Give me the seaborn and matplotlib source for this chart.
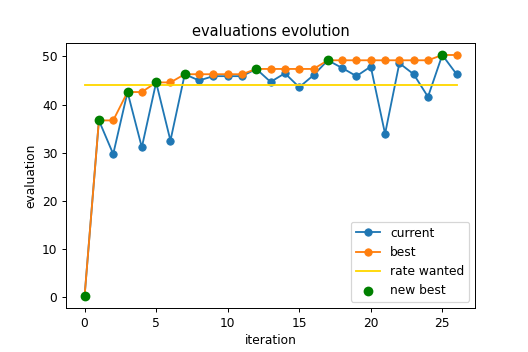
import matplotlib
matplotlib.use("Agg")
import matplotlib.pyplot as plt
import seaborn as sns
import pandas as pd

# valeurs
iterations = list(range(27))
current = [0.2, 36.7, 29.7, 42.6, 31.1, 44.6, 32.5, 46.3, 45.0, 45.9, 45.9, 45.9,
           47.4, 44.7, 46.5, 43.6, 46.1, 49.2, 47.6, 45.9, 47.9, 33.9, 48.6, 46.3,
           41.6, 50.3, 46.3]
best = [0.2, 36.7, 36.7, 42.6, 42.6, 44.6, 44.6, 46.3, 46.3, 46.3, 46.3, 46.3,
        47.4, 47.4, 47.4, 47.4, 47.4, 49.2, 49.2, 49.2, 49.2, 49.2, 49.2, 49.2,
        49.2, 50.3, 50.3]
rate_wanted = 44.0
new_best_iter = [0, 1, 3, 5, 7, 12, 17, 25]
new_best_val = [0.2, 36.7, 42.6, 44.6, 46.3, 47.4, 49.2, 50.3]

df = pd.DataFrame({"iteration": iterations, "current": current, "best": best})
df["rate"] = rate_wanted
nb = pd.DataFrame({"iteration": new_best_iter, "evaluation": new_best_val})

fig, ax = plt.subplots(figsize=(6, 4), dpi=88)
fig.subplots_adjust(left=0.125, right=0.9, top=0.878, bottom=0.125)
sns.lineplot(data=df, x="iteration", y="current", marker="o", color="#1f77b4",
             markeredgecolor="#1f77b4", markersize=6, label="current", ax=ax)
sns.lineplot(data=df, x="iteration", y="best", marker="o", color="#ff7f0e",
             markeredgecolor="#ff7f0e", markersize=6, label="best", ax=ax)
sns.lineplot(data=df, x="iteration", y="rate", color="gold", label="rate wanted", ax=ax)
sns.scatterplot(data=nb, x="iteration", y="evaluation", color="green", s=64,
                edgecolor="green", linewidth=0, label="new best", zorder=5, ax=ax)

ax.set_title("evaluations evolution")
ax.set_xlabel("iteration")
ax.set_ylabel("evaluation")
ax.legend(loc="lower right")
fig.savefig("out.png", dpi=88)
